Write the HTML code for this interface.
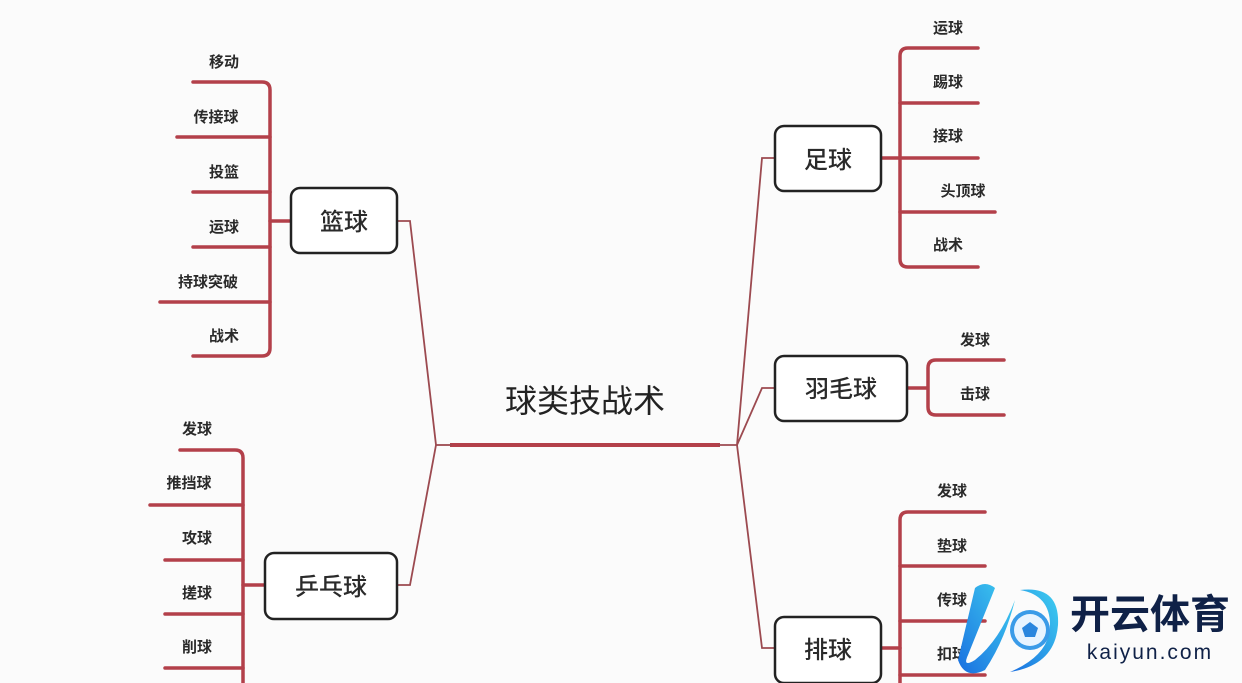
<!DOCTYPE html>
<html><head><meta charset="utf-8"><style>
html,body{margin:0;padding:0;background:#fbfbfb;}
svg{display:block}
text{font-family:"Liberation Sans","Noto Sans CJK SC",sans-serif;fill:#2a2a2a;}
.l{font-size:15px;font-weight:bold;text-anchor:middle}
.n{font-size:24px;text-anchor:middle;font-weight:500}
.br{fill:none;stroke:#b3404a;stroke-width:3.5;stroke-linecap:round}
.cn{fill:none;stroke:#9c4a50;stroke-width:1.8}
.bx{fill:#fff;stroke:#222;stroke-width:2.5}
</style></head><body>
<svg width="1242" height="683" viewBox="0 0 1242 683">
<rect width="1242" height="683" fill="#fbfbfb"/>
<text x="585" y="412" font-size="32" text-anchor="middle" style="fill:#222">球类技战术</text>
<line x1="450" y1="445" x2="720" y2="445" stroke="#b3404a" stroke-width="4"/>
<polyline class="cn" points="397,221 410,221 436,445 410,585 397,585"/>
<line class="cn" x1="436" y1="445" x2="452" y2="445"/>
<polyline class="cn" points="775,158 762,158 737,445 762,388 775,388"/>
<polyline class="cn" points="737,445 762,648 775,648"/>
<line class="cn" x1="718" y1="445" x2="737" y2="445"/>
<path class="br" d="M193,82 H262 Q270,82 270,90 V348 Q270,356 262,356 H193"/>
<path class="br" d="M177,137 H270 M193,192 H270 M193,247 H270 M160,302 H270 M270,221 H290"/>
<rect class="bx" x="291" y="188" width="106" height="65" rx="9"/>
<text class="n" x="344" y="230">篮球</text>
<text class="l" x="224" y="67">移动</text>
<text class="l" x="216" y="122">传接球</text>
<text class="l" x="224" y="177">投篮</text>
<text class="l" x="224" y="232">运球</text>
<text class="l" x="208" y="287">持球突破</text>
<text class="l" x="224" y="341">战术</text>
<path class="br" d="M180,450 H235 Q243,450 243,458 V690"/>
<path class="br" d="M150,505 H243 M165,560 H243 M165,614 H243 M165,668 H243 M243,585 H265"/>
<rect class="bx" x="265" y="553" width="132" height="66" rx="9"/>
<text class="n" x="331" y="595">乒乓球</text>
<text class="l" x="197" y="434">发球</text>
<text class="l" x="189" y="488">推挡球</text>
<text class="l" x="197" y="543">攻球</text>
<text class="l" x="197" y="598">搓球</text>
<text class="l" x="197" y="652">削球</text>
<path class="br" d="M978,48 H908 Q900,48 900,56 V259 Q900,267 908,267 H978"/>
<path class="br" d="M978,103 H900 M978,158 H882 M995,212 H900"/>
<rect class="bx" x="775" y="126" width="106" height="65" rx="9"/>
<text class="n" x="828" y="168">足球</text>
<text class="l" x="948" y="33">运球</text>
<text class="l" x="948" y="87">踢球</text>
<text class="l" x="948" y="141">接球</text>
<text class="l" x="963" y="196">头顶球</text>
<text class="l" x="948" y="250">战术</text>
<path class="br" d="M1004,360 H936 Q928,360 928,368 V407 Q928,415 936,415 H1004 M907,388 H928"/>
<rect class="bx" x="775" y="356" width="132" height="65" rx="9"/>
<text class="n" x="841" y="397">羽毛球</text>
<text class="l" x="975" y="345">发球</text>
<text class="l" x="975" y="399">击球</text>
<path class="br" d="M985,512 H908 Q900,512 900,520 V690"/>
<path class="br" d="M985,566 H900 M985,621 H900 M985,675 H900 M880,648 H900"/>
<rect class="bx" x="775" y="617" width="106" height="66" rx="9"/>
<text class="n" x="828" y="658">排球</text>
<text class="l" x="952" y="496">发球</text>
<text class="l" x="952" y="551">垫球</text>
<text class="l" x="952" y="605">传球</text>
<text class="l" x="952" y="659">扣球</text>
<defs><linearGradient id="g" x1="0" y1="1" x2="1" y2="0"><stop offset="0" stop-color="#1a6fe0"/><stop offset="1" stop-color="#3fd0f0"/></linearGradient></defs>
<path d="M975,588 Q985,580 995,588 L968,655 Q962,668 975,660 Q1000,640 1015,600 Q1005,640 985,670 Q965,680 958,660 Z" fill="url(#g)"/>
<path d="M1020,590 Q1060,585 1058,625 Q1055,665 1010,672 Q1050,655 1050,625 Q1050,595 1020,590 Z" fill="url(#g)"/>
<circle cx="1030" cy="630" r="20" fill="#3a9be8"/>
<circle cx="1030" cy="630" r="16" fill="#e8f4ff"/>
<polygon points="1030,622 1038,628 1035,637 1025,637 1022,628" fill="#2a86de"/>
<text x="1150" y="628" font-size="40" font-weight="bold" text-anchor="middle" style="fill:#0f2147">开云体育</text>
<text x="1150" y="659" font-size="21" text-anchor="middle" letter-spacing="2" style="fill:#0f2147">kaiyun.com</text>
</svg>
</body></html>
